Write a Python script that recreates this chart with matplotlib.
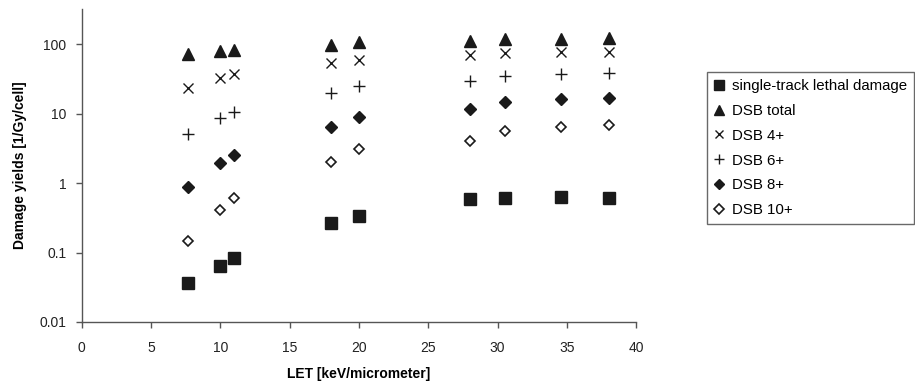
import numpy as np
import matplotlib
matplotlib.use('Agg')
import matplotlib.pyplot as plt

plt.rcParams['font.family'] = ['Liberation Sans', 'DejaVu Sans']

# LET values [keV/micrometer]
let = [7.7, 10.0, 11.0, 18.0, 20.0, 28.0, 30.5, 34.6, 38.0]

# damage yields [1/Gy/cell]
single_track = [0.036, 0.064, 0.083, 0.267, 0.34, 0.58, 0.605, 0.63, 0.605]
dsb_total = [71, 80, 82, 97, 106, 112, 118, 117, 122]
dsb_4 = [23, 32, 37, 54, 59, 70, 74, 77, 77]
dsb_6 = [5.0, 8.6, 10.6, 19.5, 25, 29.7, 34.7, 36.7, 38]
dsb_8 = [0.87, 1.92, 2.56, 6.4, 8.9, 11.5, 14.8, 16, 16.5]
dsb_10 = [0.148, 0.415, 0.6, 2.0, 3.06, 4.03, 5.7, 6.4, 6.95]

labels = ['single-track lethal damage', 'DSB total', 'DSB 4+', 'DSB 6+', 'DSB 8+', 'DSB 10+']

fig = plt.figure(figsize=(9.15, 3.83), dpi=100)
ax = fig.add_axes([0.0893, 0.1593, 0.6061, 0.8172])

ax.plot(let, single_track, ls='none', marker='s', ms=8.2, color='#1a1a1a', label=labels[0])
ax.plot(let, dsb_total, ls='none', marker='^', ms=8.5, color='#1a1a1a', label=labels[1])
ax.plot(let, dsb_4, ls='none', marker='x', ms=7.5, mew=1.0, color='#1a1a1a', label=labels[2])
ax.plot(let, dsb_6, ls='none', marker='+', ms=8, mew=1.0, color='#1a1a1a', label=labels[3])
ax.plot(let, dsb_8, ls='none', marker='D', ms=6, color='#1a1a1a', label=labels[4])
ax.plot(let, dsb_10, ls='none', marker='D', ms=5.5, mfc='white', mec='#1a1a1a', mew=1.2, label=labels[5])

ax.set_yscale('log')
ax.set_ylim(0.01, 320)
ax.set_xlim(0, 40)
ax.set_xticks(np.arange(0, 41, 5))
ax.set_yticks([0.01, 0.1, 1, 10, 100])
ax.set_yticklabels(['0.01', '0.1', '1', '10', '100'])
ax.minorticks_off()

for s in ['top', 'right']:
    ax.spines[s].set_visible(False)
for s in ['left', 'bottom']:
    ax.spines[s].set_color('#555555')
    ax.spines[s].set_linewidth(1.0)
ax.tick_params(colors='#555555', labelcolor='#222222', labelsize=10, length=4, width=1.0)
ax.tick_params(axis='x', pad=9.5)
ax.tick_params(axis='y', pad=7)

ax.set_xlabel('LET [keV/micrometer]', fontsize=10, fontweight='bold', labelpad=9)
ax.set_ylabel('Damage yields [1/Gy/cell]', fontsize=10, fontweight='bold', labelpad=9)

leg = fig.legend(loc='upper left', bbox_to_anchor=(0.7727, 0.811), fontsize=10.8,
                 frameon=True, fancybox=False, labelspacing=0.72, handlelength=0.7,
                 handletextpad=0.5, borderpad=0.45, borderaxespad=0, markerscale=0.85)
leg.get_frame().set_edgecolor('#444444')
leg.get_frame().set_linewidth(1.0)

fig.savefig('out.png', dpi=100)
